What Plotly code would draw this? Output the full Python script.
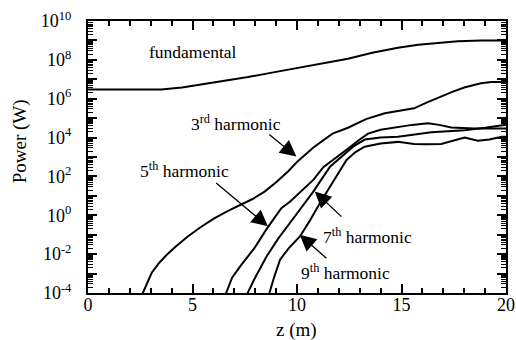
import plotly.graph_objects as go

# ---- data (z in m, power in W) ----
fund_z = [0, 3.5, 4.5, 5.42, 6.5, 7.66, 8.8, 10.05, 11.2, 12.44, 13.6, 14.83, 15.8, 16.75, 17.7, 18.8, 20]
fund_p = [3.0e6, 3.0e6, 3.8e6, 5.4e6, 8.5e6, 1.3e7, 2.2e7, 3.8e7, 6.5e7, 1.15e8, 2.3e8, 4.2e8, 6.0e8, 7.2e8, 9.1e8, 1.0e9, 1.0e9]

h3_z = [2.5, 2.8, 3.05, 3.4, 3.77, 4.2, 4.76, 5.4, 6.06, 6.7, 7.34, 7.9, 8.45, 9.0, 9.57, 10.05, 10.8, 11.7, 12.44, 13.3, 14.2, 15.0, 15.6, 16.2, 16.8, 17.4, 18.0, 18.8, 19.3, 20]
h3_p = [5e-5, 3e-4, 1.1e-3, 3.5e-3, 9.3e-3, 2.5e-2, 7.9e-2, 0.25, 0.72, 1.7, 3.5, 7.1, 16.6, 50, 180, 630, 3.2e3, 1.6e4, 3.2e4, 8.9e4, 1.8e5, 2.5e5, 3.2e5, 6.3e5, 1.2e6, 2.2e6, 3.8e6, 6.3e6, 7.2e6, 7.2e6]

h5_z = [6.5, 6.9, 7.3, 7.97, 8.55, 9.25, 9.66, 10.05, 10.78, 11.26, 11.74, 12.4, 13.0, 13.4, 14.0, 14.83, 15.5, 16.27, 16.8, 17.38, 18.5, 20]
h5_p = [5e-5, 6.3e-4, 2.5e-3, 2.1e-2, 0.2, 2.3, 5.0, 12.6, 66, 300, 710, 2.5e3, 7.9e3, 1.6e4, 2.5e4, 3.5e4, 4.5e4, 5.4e4, 4.5e4, 3.3e4, 2.95e4, 2.95e4]

h7_z = [7.5, 8.0, 8.55, 9.1, 9.66, 10.2, 10.78, 11.58, 12.2, 12.7, 13.24, 14.0, 14.83, 15.6, 16.43, 17.2, 18.02, 19.0, 19.8, 20]
h7_p = [5e-5, 6.3e-4, 7.8e-3, 6.3e-2, 0.4, 2.5, 16.6, 316, 1.26e3, 3.5e3, 7.9e3, 1.0e4, 1.1e4, 1.4e4, 1.9e4, 2.1e4, 2.4e4, 3.2e4, 4.4e4, 4.6e4]

h9_z = [8.6, 8.9, 9.19, 9.6, 10.14, 10.6, 11.1, 11.6, 12.06, 12.37, 12.8, 13.24, 14.0, 14.83, 15.6, 16.2, 16.9, 17.5, 18.02, 18.65, 19.2, 19.8, 20]
h9_p = [5e-5, 6.3e-4, 5.2e-3, 2.0e-2, 8.1e-2, 0.5, 4.3, 32, 214, 710, 1.8e3, 3.4e3, 5.0e3, 6.0e3, 4.7e3, 4.5e3, 4.7e3, 7.1e3, 1.0e4, 6.9e3, 7.9e3, 1.1e4, 1.1e4]

x_ticks = [0, 5, 10, 15, 20]
y_exps = list(range(-4, 11))

FONT = "Liberation Serif, Times New Roman, serif"

fig = go.Figure()
for zz, pp, name in [(fund_z, fund_p, "fundamental"), (h3_z, h3_p, "3rd"),
                     (h5_z, h5_p, "5th"), (h7_z, h7_p, "7th"), (h9_z, h9_p, "9th")]:
    fig.add_trace(go.Scatter(x=zz, y=pp, mode="lines", name=name,
                             line=dict(color="black", width=2), showlegend=False))

y_tickvals = [10.0 ** k for k in y_exps]
y_ticktext = [("10<sup>%d</sup>" % k) if k % 2 == 0 else "" for k in y_exps]
y_minor = [m * 10.0 ** k for k in y_exps[:-1] for m in range(2, 10)]

fig.update_xaxes(range=[0, 20], tickvals=x_ticks, ticks="inside", ticklen=9, tickwidth=1.5,
                 tickcolor="black", showline=True, linewidth=2, linecolor="black",
                 mirror="ticks", showgrid=False, zeroline=False, automargin=False,
                 ticklabelstandoff=-6,
                 minor=dict(dtick=1, ticks="inside", ticklen=5, tickwidth=1.5, tickcolor="black", showgrid=False),
                 tickfont=dict(family=FONT, size=18, color="black"))
fig.update_yaxes(type="log", range=[-4, 10], tickmode="array", tickvals=y_tickvals, ticktext=y_ticktext,
                 ticks="inside", ticklen=9, tickwidth=1.5, tickcolor="black",
                 showline=True, linewidth=2, linecolor="black", mirror="ticks",
                 showgrid=False, zeroline=False, ticklabelstandoff=11, automargin=False,
                 minor=dict(tickmode="array", tickvals=y_minor, ticks="inside", ticklen=5, tickwidth=1.2,
                            tickcolor="black", showgrid=False),
                 tickfont=dict(family=FONT, size=18, color="black"))

title_font = dict(family=FONT, size=19, color="black")
fig.add_annotation(text="Power (W)", xref="paper", yref="paper", x=-0.1625, y=0.558,
                   xanchor="center", yanchor="middle",
                   textangle=-90, showarrow=False, font=title_font)
fig.add_annotation(text="z (m)", xref="paper", yref="paper", x=0.498, y=-0.136,
                   xanchor="center", yanchor="middle",
                   showarrow=False, font=title_font)

ann_font = dict(family=FONT, size=17.5, color="black")
labels = [
    ("fundamental", 5.02, 8.4),
    ("3<sup>rd</sup> harmonic", 7.06, 4.73),
    ("5<sup>th</sup> harmonic", 4.61, 2.33),
    ("7<sup>th</sup> harmonic", 13.35, -1.09),
    ("9<sup>th</sup> harmonic", 12.32, -2.91),
]
for txt, xx, yy in labels:
    fig.add_annotation(x=xx, y=yy, text=txt, showarrow=False, font=ann_font, xref="x", yref="y")

arrows = [  # tail (ax, ay) -> head (x, y), y in log10 units
    (8.60, 4.22, 9.97, 3.02),
    (6.06, 1.73, 8.61, -0.57),
    (12.2, -0.14, 10.85, 1.22),
    (11.48, -2.28, 10.13, -1.0),
]
for ax_, ay_, x_, y_ in arrows:
    fig.add_annotation(x=x_, y=y_, ax=ax_, ay=ay_, xref="x", yref="y", axref="x", ayref="y",
                       text="", showarrow=True, arrowhead=2, arrowsize=2.5, arrowwidth=1.3,
                       arrowcolor="black")

fig.update_layout(width=516, height=340, margin=dict(l=88, r=9.5, t=20.5, b=47),
                  paper_bgcolor="white", plot_bgcolor="white",
                  font=dict(family=FONT, color="black"))
# remove the page's default body margin so the figure fills the window exactly
fig.write_html("out.html", config={"displayModeBar": False},
               post_script="document.body.style.margin='0';document.body.style.overflow='hidden';")
